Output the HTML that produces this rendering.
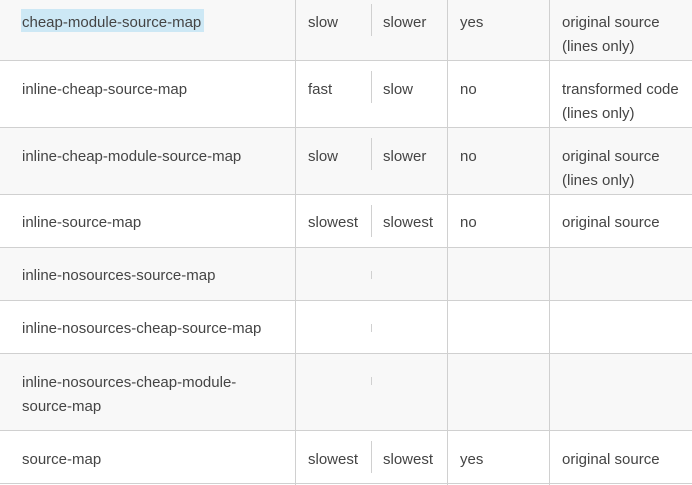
<!DOCTYPE html>
<html><head><style>
body{margin:0;width:692px;height:485px;background:#fff;font-family:"Liberation Sans",sans-serif;font-size:15px;color:#444;position:relative;overflow:hidden}
.r{position:absolute;left:0;width:692px;border-bottom:1px solid #d0d0d0}
.g{background:#f8f8f8}
.v{position:absolute;top:0;bottom:0;width:1px;background:#d0d0d0}
.t{position:absolute;line-height:24px;white-space:nowrap;margin-top:2px}
.s{position:absolute;left:371px;width:1px;background:#d0d0d0}
</style></head><body>
<div class="r g" style="top:0;height:60px"></div>
<div class="r" style="top:61px;height:66px"></div>
<div class="r g" style="top:128px;height:66px"></div>
<div class="r" style="top:195px;height:52px"></div>
<div class="r g" style="top:248px;height:52px"></div>
<div class="r" style="top:301px;height:52px"></div>
<div class="r g" style="top:354px;height:76px"></div>
<div class="r" style="top:431px;height:52px"></div>
<div class="v" style="left:295px"></div>
<div class="v" style="left:447px"></div>
<div class="v" style="left:549px"></div>

<div style="position:absolute;left:21px;top:9px;width:183px;height:23px;background:#cde8f5"></div>
<div class="t" style="left:22px;top:9px">cheap-module-source-map</div>
<div class="t" style="left:308px;top:9px">slow</div><div class="s" style="top:4px;height:32px"></div>
<div class="t" style="left:383px;top:9px">slower</div>
<div class="t" style="left:460px;top:9px">yes</div>
<div class="t" style="left:562px;top:9px">original source<br>(lines only)</div>

<div class="t" style="left:22px;top:76px">inline-cheap-source-map</div>
<div class="t" style="left:308px;top:76px">fast</div><div class="s" style="top:71px;height:32px"></div>
<div class="t" style="left:383px;top:76px">slow</div>
<div class="t" style="left:460px;top:76px">no</div>
<div class="t" style="left:562px;top:76px">transformed code<br>(lines only)</div>

<div class="t" style="left:22px;top:143px">inline-cheap-module-source-map</div>
<div class="t" style="left:308px;top:143px">slow</div><div class="s" style="top:138px;height:32px"></div>
<div class="t" style="left:383px;top:143px">slower</div>
<div class="t" style="left:460px;top:143px">no</div>
<div class="t" style="left:562px;top:143px">original source<br>(lines only)</div>

<div class="t" style="left:22px;top:209px">inline-source-map</div>
<div class="t" style="left:308px;top:209px">slowest</div><div class="s" style="top:205px;height:32px"></div>
<div class="t" style="left:383px;top:209px">slowest</div>
<div class="t" style="left:460px;top:209px">no</div>
<div class="t" style="left:562px;top:209px">original source</div>

<div class="t" style="left:22px;top:262px">inline-nosources-source-map</div><div class="s" style="top:271px;height:8px"></div>
<div class="t" style="left:22px;top:315px">inline-nosources-cheap-source-map</div><div class="s" style="top:324px;height:8px"></div>
<div class="t" style="left:22px;top:369px">inline-nosources-cheap-module-<br>source-map</div><div class="s" style="top:377px;height:8px"></div>

<div class="t" style="left:22px;top:446px">source-map</div>
<div class="t" style="left:308px;top:446px">slowest</div><div class="s" style="top:441px;height:32px"></div>
<div class="t" style="left:383px;top:446px">slowest</div>
<div class="t" style="left:460px;top:446px">yes</div>
<div class="t" style="left:562px;top:446px">original source</div>
</body></html>
